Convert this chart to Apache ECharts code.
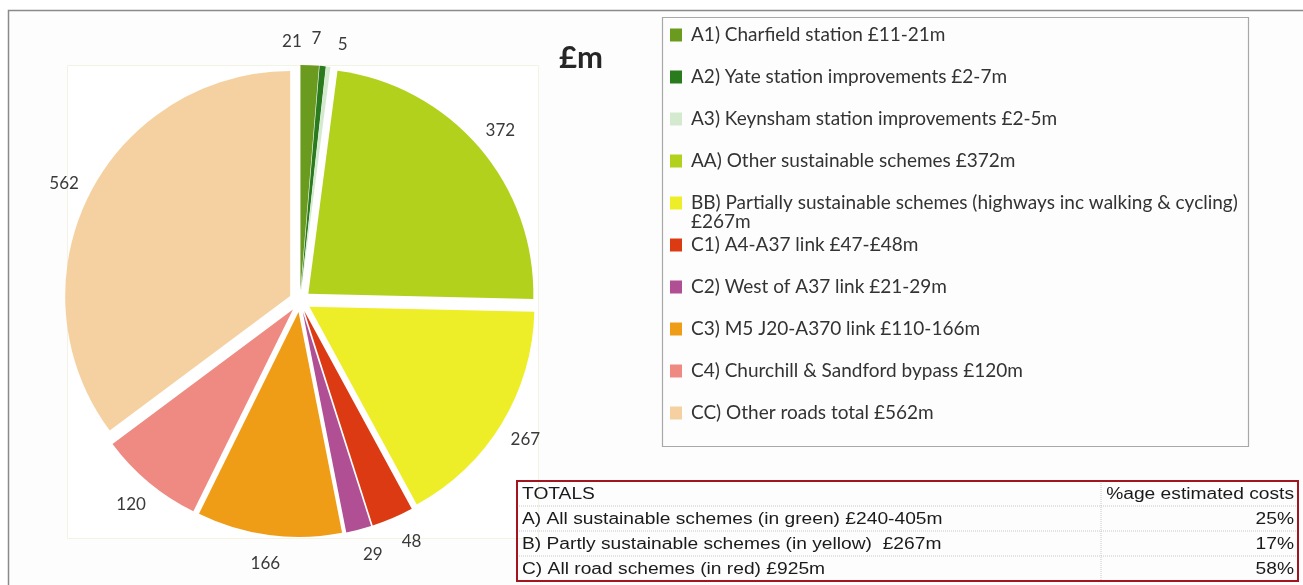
<!DOCTYPE html>
<html>
<head>
<meta charset="utf-8">
<title>Scheme costs £m</title>
<script src="https://cdn.jsdelivr.net/npm/echarts@6/dist/echarts.min.js"></script>
<style>
  html, body { margin: 0; padding: 0; background: #ffffff; }
  #chart { width: 1303px; height: 585px; }
</style>
</head>
<body>
<div id="chart"></div>
<script>

  /******************/
  //region    //data

  const schemeNames = [
    'A1) Charfield station £11-21m',
    'A2) Yate station improvements £2-7m',
    'A3) Keynsham station improvements £2-5m',
    'AA) Other sustainable schemes £372m',
    'BB) Partially sustainable schemes (highways inc walking & cycling)\n£267m',
    'C1) A4-A37 link £47-£48m',
    'C2) West of A37 link £21-29m',
    'C3) M5 J20-A370 link £110-166m',
    'C4) Churchill & Sandford bypass £120m',
    'CC) Other roads total £562m'
  ];
  const schemeCosts = [21, 7, 5, 372, 267, 48, 29, 166, 120, 562];

  const totalsHeader = ['TOTALS', '%age estimated costs'];
  const totalsNames = [
    'A) All sustainable schemes (in green) £240-405m',
    'B) Partly sustainable schemes (in yellow)  £267m',
    'C) All road schemes (in red) £925m'
  ];
  const totalsShares = [25, 17, 58];

  //endregion

  /******************/
  //region    //style

  const sliceColors = ['#6a9b1f', '#2a7a1e', '#d4eacf', '#b2d11c', '#eeee28',
    '#dc3a12', '#b04f94', '#ef9d17', '#ee8a82', '#f5d1a1'];
  const textFont = 'Lato, "Open Sans", sans-serif';
  const tableFont = '"Liberation Sans", Arial, sans-serif';

  // label nudges where the crowded value labels were spread apart
  const labelNudge = {0: [-19, 3], 1: [-9, -1], 2: [11, 5], 5: [8, -3], 6: [7, -3]};

  // legend geometry
  const legendLeft = 670, legendTop = 23, legendStep = 42;

  //endregion

  /******************/
  //region    //function

  /**
   * totals table at the bottom right, drawn as graphic elements
   */
  function totalsTable() {
    let left = 517, top = 481, width = 781, rowH = 25, splitX = 1101;
    let height = rowH * (totalsNames.length + 1);
    let els = [];
    // row separators
    for (let i = 1; i <= totalsNames.length; i++) {
      els.push({
        type: 'line',
        shape: {x1: left, y1: top + i * rowH, x2: left + width, y2: top + i * rowH},
        style: {stroke: '#c8c8c8', lineWidth: 1, lineDash: [1, 1]}
      });
    }
    els.push({
      type: 'line',
      shape: {x1: splitX, y1: top, x2: splitX, y2: top + height},
      style: {stroke: '#c8c8c8', lineWidth: 1, lineDash: [1, 1]}
    });
    let rows = [[totalsHeader[0], totalsHeader[1]]].concat(
      totalsNames.map((n, i) => [n, totalsShares[i] + '%'])
    );
    rows.forEach((r, i) => {
      let y = top + i * rowH + rowH / 2 + 1;
      els.push({
        type: 'text', x: left + 5, y: y, scaleX: 1.2,
        style: {text: r[0], fill: '#1a1a1a', font: '16px ' + tableFont, verticalAlign: 'middle'}
      });
      els.push({
        type: 'text', x: left + width - 4, y: y, scaleX: 1.2,
        style: {text: r[1], fill: '#1a1a1a', font: '16px ' + tableFont, verticalAlign: 'middle', align: 'right'}
      });
    });
    // outer box
    els.push({
      type: 'rect',
      shape: {x: left, y: top, width: width, height: height},
      style: {fill: 'none', stroke: '#a3141e', lineWidth: 2}
    });
    return els;
  }

  /**
   * wrapped second lines of legend entries (Excel lets them hang into the gap)
   */
  function legendWraps() {
    let els = [];
    schemeNames.forEach((n, i) => {
      let parts = n.split('\n');
      if (parts.length < 2) return;
      els.push({
        type: 'text',
        x: legendLeft + 12 + 9,
        y: legendTop + 10 + i * legendStep + 21,
        style: {
          text: parts.slice(1).join(' '),
          fill: '#333333', font: '19px ' + textFont, verticalAlign: 'middle'
        }
      });
    });
    return els;
  }

  function buildChart() {
    let chart = echarts.init(document.getElementById('chart'));
    let pieData = schemeNames.map((n, i) => ({
      name: n,
      value: schemeCosts[i],
      selected: true,
      itemStyle: {color: sliceColors[i]}
    }));
    let labelData = schemeNames.map((n, i) => {
      let item = {name: n, value: schemeCosts[i]};
      if (labelNudge[i]) item.label = {offset: labelNudge[i]};
      return item;
    });

    let option = {
      animation: false,
      backgroundColor: '#ffffff',
      title: {
        text: '£m',
        left: 559, top: 42,
        padding: 0,
        textStyle: {fontFamily: textFont, fontWeight: 'bold', fontSize: 31, color: '#262626'}
      },
      legend: {
        orient: 'vertical',
        left: legendLeft, top: legendTop + 2,
        padding: 0,
        itemGap: legendStep - 20,
        itemWidth: 12,
        itemHeight: 13,
        icon: 'rect',
        selectedMode: false,
        data: schemeNames,
        formatter: (name) => name.split('\n')[0],
        textStyle: {
          fontFamily: textFont, fontSize: 19, color: '#333333',
          lineHeight: 20, height: 20, padding: [0, 0, 0, 4]
        }
      },
      graphic: [
        {
          type: 'rect', silent: true, z: -10,
          shape: {x: 8.5, y: 10.5, width: 1310, height: 590},
          style: {fill: '#fdfdfd', stroke: '#8a8a8a', lineWidth: 1.5}
        },
        {
          type: 'rect', silent: true, z: -9,
          shape: {x: 67.5, y: 65.5, width: 471, height: 473},
          style: {fill: '#ffffff', stroke: '#f3f3e4', lineWidth: 1}
        },
        {
          type: 'rect', silent: true, z: -9,
          shape: {x: 662.5, y: 17.5, width: 586, height: 429},
          style: {fill: '#fdfdfd', stroke: '#a8a8a8', lineWidth: 1.2}
        }
      ].concat(totalsTable(), legendWraps()),
      series: [
        {
          type: 'pie',
          center: [300, 301],
          radius: [0, 225],
          startAngle: 90,
          clockwise: true,
          selectedMode: 'multiple',
          selectedOffset: 11,
          silent: true,
          emphasis: {disabled: true},
          label: {show: false},
          labelLine: {show: false},
          data: pieData
        },
        {
          // transparent ring carrying the value labels just past the slices
          type: 'pie',
          center: [300, 302],
          radius: [250, 272],
          startAngle: 90,
          clockwise: true,
          selectedMode: false,
          silent: true,
          emphasis: {disabled: true},
          itemStyle: {color: 'rgba(0,0,0,0)'},
          label: {
            show: true,
            position: 'inside',
            formatter: '{c}',
            fontFamily: textFont,
            fontSize: 17,
            color: '#3a3a3a'
          },
          labelLine: {show: false},
          data: labelData
        }
      ]
    };
    chart.setOption(option);
  }

  buildChart();

  //endregion
</script>
</body>
</html>
